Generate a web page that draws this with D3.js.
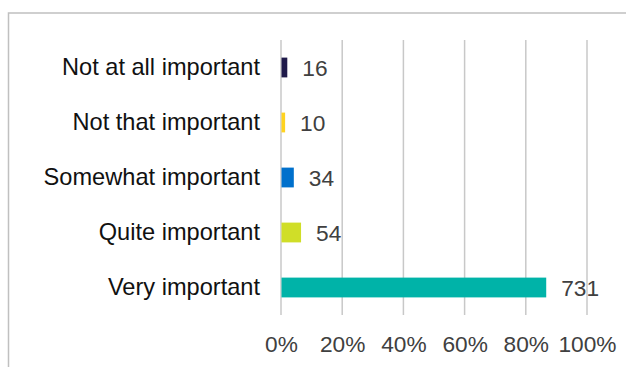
<!DOCTYPE html>
<html>
<head>
<meta charset="utf-8">
<script src="https://cdn.jsdelivr.net/npm/d3@7"></script>
<style>
  html, body { margin: 0; padding: 0; background: #fff; }
  svg { display: block; }
  text { font-family: "Liberation Sans", Arial, sans-serif; }
</style>
</head>
<body>
<svg id="chart" width="626" height="367"></svg>
<script>
const categories = ["Not at all important", "Not that important", "Somewhat important", "Quite important", "Very important"];
const counts = [16, 10, 34, 54, 731];
const colors = ["#1f1a4a", "#ffd320", "#0070cc", "#d0de28", "#00b3a8"];
const tickValues = [0, 0.2, 0.4, 0.6, 0.8, 1.0];
const tickLabels = ["0%", "20%", "40%", "60%", "80%", "100%"];

const total = d3.sum(counts);
const data = categories.map((c, i) => ({ cat: c, n: counts[i], p: counts[i] / total, color: colors[i] }));

const svg = d3.select("#chart");

// outer frame
svg.append("rect")
  .attr("x", 8.5).attr("y", 13)
  .attr("width", 700).attr("height", 400)
  .attr("fill", "none").attr("stroke", "#c0c0c0").attr("stroke-width", 1.5);

const x = d3.scaleLinear().domain([0, 1]).range([281, 587]);
const y = d3.scaleBand().domain(categories).range([40, 315]).paddingInner(0.64).paddingOuter(0.32);

// gridlines
svg.append("g").selectAll("line").data(tickValues).join("line")
  .attr("x1", d => x(d)).attr("x2", d => x(d))
  .attr("y1", 40).attr("y2", 315)
  .attr("stroke", "#c8c8c8").attr("stroke-width", 1.5);

// x axis labels
const xAxis = d3.axisBottom(x).tickValues(tickValues).tickFormat((d, i) => tickLabels[i]).tickSize(0).tickPadding(0);
const gx = svg.append("g").attr("transform", "translate(0,336)").call(xAxis);
gx.select(".domain").remove();
gx.selectAll("text").attr("font-size", 22.7).attr("fill", "#404040").attr("dy", "0.7em")
  .style("font-family", '"Liberation Sans", Arial, sans-serif');

// y axis labels
const yAxis = d3.axisLeft(y).tickSize(0).tickPadding(0);
const gy = svg.append("g").attr("transform", "translate(260,0)").call(yAxis);
gy.select(".domain").remove();
gy.selectAll("text").attr("font-size", 23.6).attr("fill", "#111").attr("dy", "0.33em")
  .style("font-family", '"Liberation Sans", Arial, sans-serif');

// bars
svg.append("g").selectAll("rect").data(data).join("rect")
  .attr("x", x(0) + 0.5)
  .attr("y", d => y(d.cat))
  .attr("width", d => x(d.p) - x(0))
  .attr("height", y.bandwidth())
  .attr("fill", d => d.color);

// value labels
svg.append("g").selectAll("text").data(data).join("text")
  .attr("x", d => x(d.p) + 15.5)
  .attr("y", d => y(d.cat) + y.bandwidth() / 2 + 1)
  .attr("dy", "0.35em")
  .attr("font-size", 22.7)
  .attr("fill", "#404040")
  .text(d => d.n);
</script>
</body>
</html>
